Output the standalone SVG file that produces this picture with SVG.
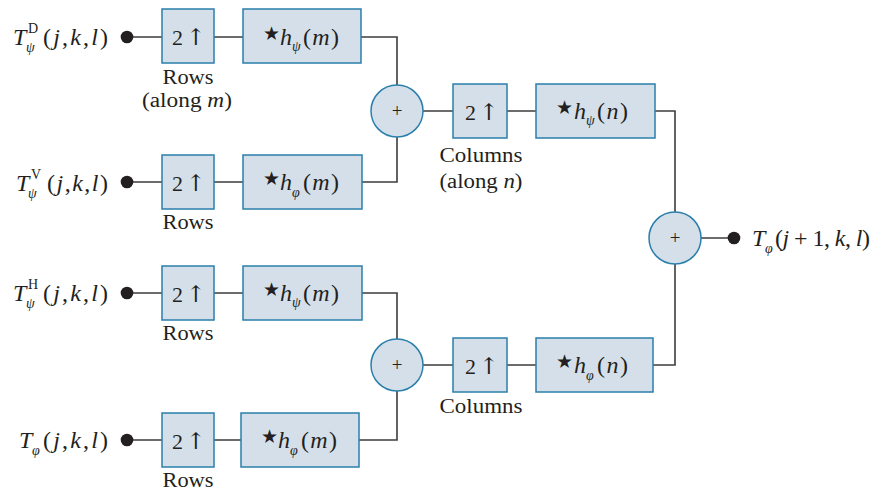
<svg xmlns="http://www.w3.org/2000/svg" width="881" height="492" viewBox="0 0 881 492">
<style>
.box{fill:#d5dfea;stroke:#2a7fab;stroke-width:1.5}
.sum{fill:#d5dfea;stroke:#2a7fab;stroke-width:1.5}
.wire{fill:none;stroke:#3c3c3c;stroke-width:1.6}
.dot{fill:#231f20}
text{font-family:"Liberation Serif","Times New Roman",serif;fill:#231f20}
.m{font-size:24px}
.i{font-style:italic}
.s{font-size:14px}
.lbl{font-size:20px;text-anchor:middle}
.up{font-size:22px}
.arr{font-family:"DejaVu Serif",serif;font-size:23px}
.star{font-family:"DejaVu Sans",sans-serif;font-size:19px}
.plus{font-size:19px;text-anchor:middle}
</style>
<rect width="881" height="492" fill="#ffffff"/>
<g id="connectors">
<path class="wire" d="M127 37H162M214 37H243M361 37H397V85"/>
<path class="wire" d="M127 182H162M214 182H243M362 182H397V137"/>
<path class="wire" d="M423 111H453M507 111H536M655 111H675V212"/>
<path class="wire" d="M127 293H162M214 293H243M362 293H397V339"/>
<path class="wire" d="M127 440H162M214 440H241M359 440H397V391"/>
<path class="wire" d="M423 365H453M507 365H536M653 365H675V264"/>
<path class="wire" d="M701 238H734"/>
</g>
<g id="in1">
<circle class="dot" cx="127" cy="37" r="6.3"/>
<text class="m i" x="13" y="45">T</text>
<text class="s" x="28" y="33">D</text>
<text class="s i" x="26" y="52">ψ</text>
<text class="m" x="43" y="45" textLength="65" lengthAdjust="spacing">(<tspan class="i">j</tspan>,<tspan class="i">k</tspan>,<tspan class="i">l</tspan>)</text>
</g>
<g id="in2">
<circle class="dot" cx="127" cy="182" r="6.3"/>
<text class="m i" x="16" y="191">T</text>
<text class="s" x="31" y="179">V</text>
<text class="s i" x="28" y="198">ψ</text>
<text class="m" x="47" y="191" textLength="61" lengthAdjust="spacing">(<tspan class="i">j</tspan>,<tspan class="i">k</tspan>,<tspan class="i">l</tspan>)</text>
</g>
<g id="in3">
<circle class="dot" cx="127" cy="293" r="6.3"/>
<text class="m i" x="13" y="301">T</text>
<text class="s" x="28" y="289">H</text>
<text class="s i" x="26" y="308">ψ</text>
<text class="m" x="43" y="301" textLength="65" lengthAdjust="spacing">(<tspan class="i">j</tspan>,<tspan class="i">k</tspan>,<tspan class="i">l</tspan>)</text>
</g>
<g id="in4">
<circle class="dot" cx="127" cy="440" r="6.3"/>
<text class="m i" x="19" y="448">T</text>
<text class="s i" x="32" y="455">φ</text>
<text class="m" x="43" y="448" textLength="65" lengthAdjust="spacing">(<tspan class="i">j</tspan>,<tspan class="i">k</tspan>,<tspan class="i">l</tspan>)</text>
</g>
<g id="up1">
<rect class="box" x="162" y="9" width="52" height="54"/>
<text class="up" x="172" y="45">2<tspan class="arr" x="186">↑</tspan></text>
<text class="lbl" x="188" y="84" textLength="51" lengthAdjust="spacingAndGlyphs">Rows</text>
<text class="lbl" x="187" y="107" textLength="90" lengthAdjust="spacingAndGlyphs">(along <tspan class="i">m</tspan>)</text>
</g>
<g id="f1">
<rect class="box" x="243" y="9" width="118" height="54"/>
<text class="star" x="263" y="40">★</text>
<text class="m i" x="280" y="45">h</text>
<text class="s i" x="292" y="51">ψ</text>
<text class="m" x="303" y="45" textLength="36" lengthAdjust="spacing">(<tspan class="i">m</tspan>)</text>
</g>
<g id="up2">
<rect class="box" x="162" y="155" width="52" height="54"/>
<text class="up" x="172" y="191">2<tspan class="arr" x="186">↑</tspan></text>
<text class="lbl" x="188" y="229" textLength="51" lengthAdjust="spacingAndGlyphs">Rows</text>
</g>
<g id="f2">
<rect class="box" x="243" y="155" width="119" height="54"/>
<text class="star" x="263" y="185">★</text>
<text class="m i" x="280" y="190">h</text>
<text class="s i" x="292" y="197">φ</text>
<text class="m" x="303" y="190" textLength="36" lengthAdjust="spacing">(<tspan class="i">m</tspan>)</text>
</g>
<g id="up3">
<rect class="box" x="162" y="266" width="52" height="54"/>
<text class="up" x="172" y="302">2<tspan class="arr" x="186">↑</tspan></text>
<text class="lbl" x="188" y="340" textLength="51" lengthAdjust="spacingAndGlyphs">Rows</text>
</g>
<g id="f3">
<rect class="box" x="243" y="266" width="119" height="54"/>
<text class="star" x="263" y="296">★</text>
<text class="m i" x="280" y="301">h</text>
<text class="s i" x="292" y="307">ψ</text>
<text class="m" x="303" y="301" textLength="36" lengthAdjust="spacing">(<tspan class="i">m</tspan>)</text>
</g>
<g id="up4">
<rect class="box" x="162" y="413" width="52" height="54"/>
<text class="up" x="172" y="449">2<tspan class="arr" x="186">↑</tspan></text>
<text class="lbl" x="188" y="487" textLength="51" lengthAdjust="spacingAndGlyphs">Rows</text>
</g>
<g id="f4">
<rect class="box" x="241" y="413" width="118" height="54"/>
<text class="star" x="261" y="443">★</text>
<text class="m i" x="278" y="448">h</text>
<text class="s i" x="290" y="455">φ</text>
<text class="m" x="301" y="448" textLength="36" lengthAdjust="spacing">(<tspan class="i">m</tspan>)</text>
</g>
<g id="sum1">
<circle class="sum" cx="397" cy="111" r="26"/>
<text class="plus" x="397" y="117">+</text>
</g>
<g id="sum2">
<circle class="sum" cx="397" cy="365" r="26"/>
<text class="plus" x="397" y="371">+</text>
</g>
<g id="upc1">
<rect class="box" x="453" y="84" width="54" height="54"/>
<text class="up" x="465" y="120">2<tspan class="arr" x="479">↑</tspan></text>
<text class="lbl" x="481" y="162" textLength="83" lengthAdjust="spacingAndGlyphs">Columns</text>
<text class="lbl" x="481" y="188" textLength="83" lengthAdjust="spacingAndGlyphs">(along <tspan class="i">n</tspan>)</text>
</g>
<g id="fc1">
<rect class="box" x="536" y="84" width="119" height="54"/>
<text class="star" x="556" y="114">★</text>
<text class="m i" x="574" y="119">h</text>
<text class="s i" x="586" y="125">ψ</text>
<text class="m" x="597" y="119" textLength="31" lengthAdjust="spacing">(<tspan class="i">n</tspan>)</text>
</g>
<g id="upc2">
<rect class="box" x="453" y="338" width="54" height="54"/>
<text class="up" x="465" y="374">2<tspan class="arr" x="479">↑</tspan></text>
<text class="lbl" x="481" y="413" textLength="83" lengthAdjust="spacingAndGlyphs">Columns</text>
</g>
<g id="fc2">
<rect class="box" x="536" y="338" width="117" height="54"/>
<text class="star" x="556" y="368">★</text>
<text class="m i" x="574" y="373">h</text>
<text class="s i" x="586" y="380">φ</text>
<text class="m" x="597" y="373" textLength="31" lengthAdjust="spacing">(<tspan class="i">n</tspan>)</text>
</g>
<g id="sum3">
<circle class="sum" cx="675" cy="238" r="26"/>
<text class="plus" x="675" y="244">+</text>
</g>
<g id="out">
<circle class="dot" cx="734" cy="238" r="6.3"/>
<text class="m i" x="752" y="246">T</text>
<text class="s i" x="765" y="253">φ</text>
<text class="m" x="775" y="246" textLength="95" lengthAdjust="spacing">(<tspan class="i">j</tspan> + 1, <tspan class="i">k</tspan>, <tspan class="i">l</tspan>)</text>
</g>
</svg>
